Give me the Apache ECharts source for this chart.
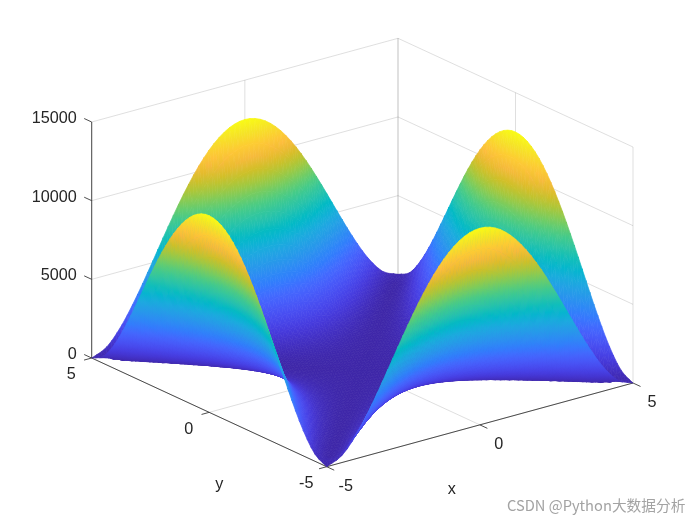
<!DOCTYPE html>
<html><head><meta charset="utf-8"><style>html,body{margin:0;padding:0;background:#fff}#c{width:700px;height:525px}</style>
<script src="https://cdn.jsdelivr.net/npm/echarts@6/dist/echarts.min.js"></script></head>
<body><div id="c"></div>
<script>
const xValues=[-5,-4.5,-4,-3.5,-3,-2.5,-2,-1.5,-1,-0.5,0,0.5,1,1.5,2,2.5,3,3.5,4,4.5,5];
const yValues=xValues.slice();
// heights, one row per y value (y=-5 first), one column per x value
const zRows=[
[0,451,1620,3251,5120,7031,8820,10351,11520,12251,12500,12251,11520,10351,8820,7031,5120,3251,1620,451,0],
[451,0,361,1280,2531,3920,5281,6480,7411,8000,8201,8000,7411,6480,5281,3920,2531,1280,361,0,451],
[1620,361,0,281,980,1901,2880,3781,4500,4961,5120,4961,4500,3781,2880,1901,980,281,0,361,1620],
[3251,1280,281,0,211,720,1361,2000,2531,2880,3001,2880,2531,2000,1361,720,211,0,281,1280,3251],
[5120,2531,980,211,0,151,500,911,1280,1531,1620,1531,1280,911,500,151,0,211,980,2531,5120],
[7031,3920,1901,720,151,0,101,320,551,720,781,720,551,320,101,0,151,720,1901,3920,7031],
[8820,5281,2880,1361,500,101,0,61,180,281,320,281,180,61,0,101,500,1361,2880,5281,8820],
[10351,6480,3781,2000,911,320,61,0,31,80,101,80,31,0,61,320,911,2000,3781,6480,10351],
[11520,7411,4500,2531,1280,551,180,31,0,11,20,11,0,31,180,551,1280,2531,4500,7411,11520],
[12251,8000,4961,2880,1531,720,281,80,11,0,1,0,11,80,281,720,1531,2880,4961,8000,12251],
[12500,8201,5120,3001,1620,781,320,101,20,1,0,1,20,101,320,781,1620,3001,5120,8201,12500],
[12251,8000,4961,2880,1531,720,281,80,11,0,1,0,11,80,281,720,1531,2880,4961,8000,12251],
[11520,7411,4500,2531,1280,551,180,31,0,11,20,11,0,31,180,551,1280,2531,4500,7411,11520],
[10351,6480,3781,2000,911,320,61,0,31,80,101,80,31,0,61,320,911,2000,3781,6480,10351],
[8820,5281,2880,1361,500,101,0,61,180,281,320,281,180,61,0,101,500,1361,2880,5281,8820],
[7031,3920,1901,720,151,0,101,320,551,720,781,720,551,320,101,0,151,720,1901,3920,7031],
[5120,2531,980,211,0,151,500,911,1280,1531,1620,1531,1280,911,500,151,0,211,980,2531,5120],
[3251,1280,281,0,211,720,1361,2000,2531,2880,3001,2880,2531,2000,1361,720,211,0,281,1280,3251],
[1620,361,0,281,980,1901,2880,3781,4500,4961,5120,4961,4500,3781,2880,1901,980,281,0,361,1620],
[451,0,361,1280,2531,3920,5281,6480,7411,8000,8201,8000,7411,6480,5281,3920,2531,1280,361,0,451],
[0,451,1620,3251,5120,7031,8820,10351,11520,12251,12500,12251,11520,10351,8820,7031,5120,3251,1620,451,0]
];
const xTicks=[-5,0,5];
const yTicks=[-5,0,5];
const zTicks=[0,5000,10000,15000];
const zTickLabels=['0','5000','10000','15000'];
const xTickLabels=['-5','0','5'];
const yTickLabels=['-5','0','5'];
const parula=[[0.2422,0.1504,0.6603],[0.2504,0.1650,0.7076],[0.2578,0.1818,0.7511],[0.2647,0.1978,0.7952],[0.2706,0.2147,0.8364],[0.2751,0.2342,0.8710],[0.2783,0.2559,0.8991],[0.2803,0.2782,0.9221],[0.2813,0.3006,0.9414],[0.2810,0.3228,0.9579],[0.2795,0.3447,0.9717],[0.2760,0.3667,0.9829],[0.2699,0.3892,0.9906],[0.2602,0.4123,0.9952],[0.2440,0.4358,0.9988],[0.2206,0.4603,0.9973],[0.1963,0.4847,0.9892],[0.1834,0.5074,0.9798],[0.1786,0.5289,0.9682],[0.1764,0.5499,0.9520],[0.1687,0.5703,0.9359],[0.1540,0.5902,0.9218],[0.1460,0.6091,0.9079],[0.1380,0.6276,0.8973],[0.1248,0.6459,0.8883],[0.1113,0.6635,0.8763],[0.0952,0.6798,0.8598],[0.0689,0.6948,0.8394],[0.0297,0.7082,0.8163],[0.0036,0.7203,0.7917],[0.0067,0.7312,0.7660],[0.0433,0.7411,0.7394],[0.0964,0.7500,0.7120],[0.1408,0.7584,0.6842],[0.1717,0.7670,0.6554],[0.1938,0.7758,0.6251],[0.2161,0.7843,0.5923],[0.2470,0.7918,0.5567],[0.2906,0.7973,0.5188],[0.3406,0.8008,0.4789],[0.3909,0.8029,0.4354],[0.4456,0.8024,0.3909],[0.5044,0.7993,0.3480],[0.5616,0.7942,0.3045],[0.6174,0.7876,0.2612],[0.6720,0.7793,0.2227],[0.7242,0.7698,0.1910],[0.7738,0.7598,0.1646],[0.8203,0.7498,0.1535],[0.8634,0.7406,0.1596],[0.9035,0.7330,0.1774],[0.9393,0.7288,0.2100],[0.9728,0.7298,0.2394],[0.9956,0.7434,0.2371],[0.9970,0.7659,0.2199],[0.9952,0.7893,0.2028],[0.9892,0.8136,0.1885],[0.9786,0.8386,0.1766],[0.9676,0.8639,0.1643],[0.9610,0.8890,0.1537],[0.9597,0.9135,0.1423],[0.9628,0.9373,0.1265],[0.9691,0.9606,0.1064],[0.9769,0.9839,0.0805]];

const ORIGIN=[326.7,466.7], PER_X=[30.63,-8.37], PER_Y=[-23.5,-10.87], PER_Z=-236/15000, X0=-5, Y0=-5, Z_TOP=12500;
function project(x,y,z){
  const a=x-X0,b=y-Y0;
  return [ORIGIN[0]+a*PER_X[0]+b*PER_Y[0], ORIGIN[1]+a*PER_X[1]+b*PER_Y[1]+z*PER_Z];
}
function colorOf(z){
  const t=Math.max(0,Math.min(1,z/Z_TOP))*(parula.length-1);
  const i=Math.min(parula.length-2,Math.floor(t)),f=t-i;
  const c=parula[i].map((v,k)=>Math.round(255*(v+(parula[i+1][k]-v)*f)));
  return 'rgb('+c.join(',')+')';
}
const SUB=3;
function cr(p0,p1,p2,p3,t){return 0.5*(2*p1+(p2-p0)*t+(2*p0-5*p1+4*p2-p3)*t*t+(3*p1-p0-3*p2+p3)*t*t*t);}
function at(j,i){
  const n=xValues.length-1;
  if(j<0) return 2*at(0,i)-at(1,i);
  if(j>n) return 2*at(n,i)-at(n-1,i);
  if(i<0) return 2*at(j,0)-at(j,1);
  if(i>n) return 2*at(j,n)-at(j,n-1);
  return zRows[j][i];
}
function surf(j,i,v,u){
  const r=[];
  for(let m=-1;m<=2;m++) r.push(cr(at(j+m,i-1),at(j+m,i),at(j+m,i+1),at(j+m,i+2),u));
  return Math.max(0,cr(r[0],r[1],r[2],r[3],v));
}
const h=0.5/SUB, facets=[];
function addTri(P,Q,R){
  facets.push({d:0.57*(P[0]+Q[0]+R[0])/3+0.742*(P[1]+Q[1]+R[1])/3,pts:[P,Q,R]});
}
for(let j=0;j<yValues.length-1;j++)for(let i=0;i<xValues.length-1;i++)for(let b=0;b<SUB;b++)for(let a=0;a<SUB;a++){
  const xa=xValues[i]+a*h,xb=xa+h,ya=yValues[j]+b*h,yb=ya+h;
  const P=[xa,ya,surf(j,i,b/SUB,a/SUB)],Q=[xb,ya,surf(j,i,b/SUB,(a+1)/SUB)],
        R=[xb,yb,surf(j,i,(b+1)/SUB,(a+1)/SUB)],S=[xa,yb,surf(j,i,(b+1)/SUB,a/SUB)];
  addTri(P,Q,R);addTri(P,R,S);
}
facets.sort((p,q)=>q.d-p.d);
// fill of one triangle: the exact gradient of its height on the page
function facetFill(f,scr){
  const zs=f.pts.map(p=>p[2]),zMin=Math.min(...zs),zMax=Math.max(...zs);
  const flat=colorOf((zs[0]+zs[1]+zs[2])/3);
  const ex=scr[1][0]-scr[0][0],ey=scr[1][1]-scr[0][1],fx=scr[2][0]-scr[0][0],fy=scr[2][1]-scr[0][1];
  const dz1=zs[1]-zs[0],dz2=zs[2]-zs[0],det=ex*fy-ey*fx;
  if(Math.abs(det)<0.02||zMax-zMin<1) return flat;
  const ga=(dz1*fy-dz2*ey)/det,gb=(ex*dz2-fx*dz1)/det,g2=ga*ga+gb*gb;
  if(g2<1e-9) return flat;
  const lo=(zMin-zs[0])/g2,hi=(zMax-zs[0])/g2,ox=scr[0][0],oy=scr[0][1];
  return new echarts.graphic.LinearGradient(ox+ga*lo,oy+gb*lo,ox+ga*hi,oy+gb*hi,[
    {offset:0,color:colorOf(zMin)},{offset:0.5,color:colorOf((zMin+zMax)/2)},{offset:1,color:colorOf(zMax)}],true);
}

const GRID='rgba(38,38,38,0.15)',AX='#3a3a3a';
const xL=xTicks[0],xH=xTicks[2],yL=yTicks[0],yH=yTicks[2],zL=0,zH=15000;
const gridSegs=[];
zTicks.forEach(z=>{gridSegs.push([[xL,yH,z],[xH,yH,z]],[[xH,yH,z],[xH,yL,z]]);});
xTicks.forEach(x=>{gridSegs.push([[x,yH,zL],[x,yH,zH]],[[x,yL,zL],[x,yH,zL]]);});
yTicks.forEach(y=>{gridSegs.push([[xH,y,zL],[xH,y,zH]],[[xL,y,zL],[xH,y,zL]]);});
const axisSegs=[[[xL,yL,zL],[xH,yL,zL]],[[xL,yL,zL],[xL,yH,zL]],[[xL,yH,zL],[xL,yH,zH]]];
const TICK_X=0.25,TICK_Y=0.32;
xTicks.forEach(x=>axisSegs.push([[x,yL,zL],[x,yL-TICK_Y,zL]]));
yTicks.forEach(y=>axisSegs.push([[xL,y,zL],[xL-TICK_X,y,zL]]));
zTicks.forEach(z=>axisSegs.push([[xL,yH,z],[xL,yH+TICK_Y,z]]));
const FONT='"Liberation Sans",Arial,sans-serif',INK='#262626';
const labels=[];
zTicks.forEach((z,k)=>labels.push({p:[xL,yH,z],dx:-15,dy:-3.5,t:zTickLabels[k],align:'right'}));
xTicks.forEach((x,k)=>labels.push({p:[x,yL,zL],dx:19,dy:19.5,t:xTickLabels[k],align:'center'}));
yTicks.forEach((y,k)=>labels.push({p:[xL,y,zL],dx:-20.5,dy:17,t:yTickLabels[k],align:'center'}));
labels.push({p:[0,yL,zL],dx:-28,dy:65,t:'x',align:'center'});
labels.push({p:[xL,0,zL],dx:10,dy:72,t:'y',align:'center'});

function segSeries(segs,color,w,z){
  return {type:'custom',coordinateSystem:'cartesian2d',silent:true,animation:false,clip:false,z:z,progressive:0,
    data:segs.map((s,i)=>[i]),encode:{x:0,y:0},
    renderItem(params,api){
      const s=segs[params.dataIndex];
      const A=api.coord(project(...s[0])),B=api.coord(project(...s[1]));
      return {type:'line',shape:{x1:A[0],y1:A[1],x2:B[0],y2:B[1]},style:{stroke:color,lineWidth:w}};
    }};
}
const option={
  backgroundColor:'#fff',animation:false,
  grid:{left:0,right:0,top:0,bottom:0},
  xAxis:{type:'value',min:0,max:700,show:false},
  yAxis:{type:'value',min:0,max:525,inverse:true,show:false},
  graphic:[{type:'text',left:507,top:498,silent:true,
    style:{text:'CSDN @Python大数据分析',font:'14.7px "Noto Sans CJK SC","Noto Sans",sans-serif',fill:'#a3a3a3'}}],
  series:[
    segSeries(gridSegs,GRID,1,1),
    segSeries(axisSegs,AX,0.9,2),
    {type:'custom',coordinateSystem:'cartesian2d',silent:true,animation:false,clip:false,z:3,progressive:0,
     data:facets.map((f,i)=>[i]),encode:{x:0,y:0},
     renderItem(params,api){
       const f=facets[params.dataIndex];
       const scr=f.pts.map(p=>api.coord(project(...p)));
       const fill=facetFill(f,scr);
       return {type:'polygon',shape:{points:scr},style:{fill:fill,stroke:fill,lineWidth:0.7}};
     }},
    {type:'custom',coordinateSystem:'cartesian2d',silent:true,animation:false,clip:false,z:4,progressive:0,
     data:labels.map((l,i)=>[i]),encode:{x:0,y:0},
     renderItem(params,api){
       const l=labels[params.dataIndex],P=api.coord(project(...l.p));
       return {type:'text',x:P[0]+l.dx,y:P[1]+l.dy,
         style:{text:l.t,fill:INK,font:'16.2px '+FONT,textAlign:l.align,textVerticalAlign:'middle'}};
     }}
  ]
};
echarts.init(document.getElementById('c'),null,{renderer:'canvas'}).setOption(option);
</script></body></html>
